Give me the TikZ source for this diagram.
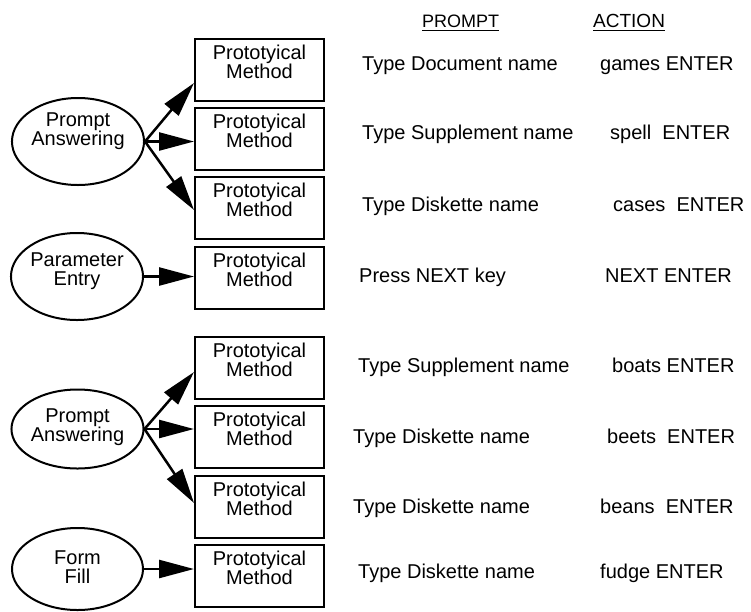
\documentclass[tikz,border=0pt]{standalone}
\usepackage{fontspec}
\setmainfont{Liberation Sans}
\usetikzlibrary{arrows.meta,shapes.geometric}
\newcommand\tightlines{\lineskiplimit=-30pt\relax}
\begin{document}
\begin{tikzpicture}[x=1pt,y=-1pt,
  every node/.style={font=\fontsize{20}{19}\selectfont, execute at begin node=\tightlines},
  method/.style={draw, line width=2pt, minimum width=129pt, minimum height=62pt,
    inner sep=0pt, align=center},
  activity/.style={draw, ellipse, line width=2pt, inner sep=0pt, align=center},
  link/.style={line width=2.5pt, -{Triangle[length=35pt,width=18pt]}},
  rowtext/.style={anchor=base west, inner sep=0pt},
  heading/.style={anchor=base west, inner sep=0pt},
  rule/.style={line width=1pt},
]
\useasboundingbox (0,0) rectangle (751,611);

% activity ellipses
\node[activity, minimum width=130pt, minimum height=87pt] (pa1) at (78,141.5)
  {Prompt\\Answering\\[6.3pt]\mbox{}};
\node[activity, minimum width=130pt, minimum height=87pt] (pe) at (77,276.5)
  {Parameter\\Entry\\[-3.7pt]\mbox{}};
\node[activity, minimum width=131pt, minimum height=79pt] (pa2) at (77.5,429)
  {Prompt\\Answering\\[-11.7pt]\mbox{}};
\node[activity, minimum width=131pt, minimum height=82pt] (ff) at (77.5,569)
  {Form\\Fill\\[-14.7pt]\mbox{}};

% method boxes
\foreach \n/\y in {1/70,2/138.5,3/208,4/277.5,5/367.5,6/437,7/506.5,8/576}
  \node[method] (b\n) at (259.5,\y) {Prototyical\\Method\\[-2.7pt]\mbox{}};

% connectors
\draw[link] (pa1.east) -- ([yshift=-13pt]b1.west);
\draw[link] (pa1.east) -- (pa1.east -| b2.west);
\draw[link] (pa1.east) -- ([yshift=-2pt]b3.west);
\draw[link] (pe.east) -- (pe.east -| b4.west);
\draw[link] (pa2.east) -- ([yshift=-4.5pt]b5.west);
\draw[link] (pa2.east) -- (pa2.east -| b6.west);
\draw[link] (pa2.east) -- ([yshift=3.5pt]b7.west);
\draw[link] (ff.east) -- (ff.east -| b8.west);

% column headings
\node[heading, font=\fontsize{18}{18}\selectfont] (hp) at (422,27) {PROMPT};
\node[heading, font=\fontsize{19}{18}\selectfont] (ha) at (593,27) {ACTION};
\draw[rule] ([yshift=-3pt]hp.base west) -- ([yshift=-3pt]hp.base east);
\draw[rule] ([yshift=-3pt]ha.base west) -- ([yshift=-3pt]ha.base east);

% prompts
\node[rowtext] (p1) at (362,70) {Type Document name};
\node[rowtext] (p2) at (362,139.5) {Type Supplement name};
\node[rowtext] (p3) at (362,211) {Type Diskette name};
\node[rowtext] (p4) at (359,282.5) {Press NEXT key};
\node[rowtext] (p5) at (358,372.5) {Type Supplement name};
\node[rowtext] (p6) at (353,443.5) {Type Diskette name};
\node[rowtext] (p7) at (353,513.5) {Type Diskette name};
\node[rowtext] (p8) at (358,578.5) {Type Diskette name};

% actions
\node[rowtext] (a1) at (600,70) {games ENTER};
\node[rowtext] (a2) at (610,139.5) {spell\ \ ENTER};
\node[rowtext] (a3) at (613,211) {cases\ \ ENTER};
\node[rowtext] (a4) at (605,282.5) {NEXT ENTER};
\node[rowtext] (a5) at (612,372.5) {boats ENTER};
\node[rowtext] (a6) at (607,443.5) {beets\ \ ENTER};
\node[rowtext] (a7) at (600,513.5) {beans\ \ ENTER};
\node[rowtext] (a8) at (600,578.5) {fudge ENTER};
\end{tikzpicture}
\end{document}
